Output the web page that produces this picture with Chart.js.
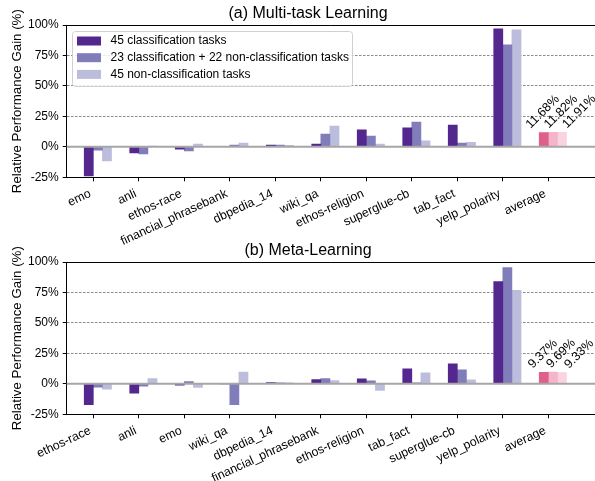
<!DOCTYPE html>
<html>
<head>
<meta charset="utf-8">
<script src="https://cdn.jsdelivr.net/npm/chart.js@4"></script>
<style>
body { margin: 0; background: #fff; width: 595px; height: 481px; overflow: hidden; position: relative; }
canvas { position: absolute; left: 0; }
#mtlChart { top: 0; }
#metaChart { top: 237px; }
</style>
</head>
<body>
<canvas id="mtlChart" width="595" height="250"></canvas>
<canvas id="metaChart" width="595" height="244"></canvas>
<script>
const seriesNames = ['45 classification tasks', '23 classification + 22 non-classification tasks', '45 non-classification tasks'];

// (a) multi-task learning
const mtlTasks = ['emo', 'anli', 'ethos-race', 'financial_phrasebank', 'dbpedia_14', 'wiki_qa', 'ethos-religion', 'superglue-cb', 'tab_fact', 'yelp_polarity', 'average'];
const mtlCls = [-23.8, -4.9, -1.9, 0.5, 1.4, 2.2, 14.0, 15.6, 17.8, 96.8, 11.68];
const mtlMix = [-2.7, -5.8, -3.3, 1.4, 1.4, 10.4, 8.8, 20.3, 3.0, 83.7, 11.82];
const mtlNon = [-11.5, 0.6, 2.2, 3.0, 1.2, 17.0, 2.2, 5.0, 3.8, 96.0, 11.91];

// (b) meta-learning
const metaTasks = ['ethos-race', 'anli', 'emo', 'wiki_qa', 'dbpedia_14', 'financial_phrasebank', 'ethos-religion', 'tab_fact', 'superglue-cb', 'yelp_polarity', 'average'];
const metaCls = [-17.0, -7.7, -1.1, 0.0, 1.1, 3.5, 4.1, 12.3, 16.4, 84.0, 9.37];
const metaMix = [-2.8, -1.9, 1.9, -17.0, 0.8, 4.4, 2.5, 0.8, 11.5, 95.4, 9.69];
const metaNon = [-4.4, 4.4, -3.0, 9.6, 0.8, 2.7, -5.5, 9.0, 3.3, 76.8, 9.33];

const yTicks = [-25, 0, 25, 50, 75, 100];

const purples = ['#54278f', '#807dba', '#bcbddc'];
const pinks = ['#df6189', '#f4b4c9', '#f9d3df'];
const barOffsets = [-0.1, 0.1, 0.3];   // bars are edge aligned: first one ends on the tick
const FONT = '"Liberation Sans", Arial, sans-serif';
const AXIS_BOTTOM = 177.3;   // plot bottom inside each canvas

Chart.defaults.font.family = FONT;
Chart.defaults.color = '#000';

const extras = {
    id: 'extras',
    afterDatasetsDraw(chart, args, opts) {
        const {ctx, chartArea: a, scales: {x, y}} = chart;
        ctx.save();
        // zero line on top of the bars
        const y0 = y.getPixelForValue(0);
        ctx.strokeStyle = '#a6a6a6';
        ctx.lineWidth = 2;
        ctx.beginPath(); ctx.moveTo(a.left, y0); ctx.lineTo(a.right, y0); ctx.stroke();
        // top spine
        ctx.strokeStyle = '#000';
        ctx.lineWidth = 1;
        ctx.beginPath(); ctx.moveTo(a.left, a.top + 0.5); ctx.lineTo(a.right, a.top + 0.5); ctx.stroke();

        // value labels above the average bars
        const last = chart.data.labels.length - 1;
        const fs = 12.5;
        ctx.font = fs + 'px ' + FONT;
        ctx.fillStyle = '#000';
        ctx.textAlign = 'center';
        ctx.textBaseline = 'middle';
        chart.data.datasets.forEach((ds, j) => {
            const el = chart.getDatasetMeta(j).data[last];
            const txt = ds.data[last].y.toFixed(2) + '%';
            const w = ctx.measureText(txt).width;
            const half = (w + fs * 0.8) * 0.7071 / 2;
            const cx = x.getPixelForValue(last - 0.1 + 0.4 * j) - 1;
            const cy = Math.min(el.y, el.base) - 2.5 - half;
            ctx.save();
            ctx.translate(cx, cy);
            ctx.rotate(-Math.PI / 4);
            ctx.fillText(txt, 0, 0);
            ctx.restore();
        });
        ctx.restore();
    },
    afterDraw(chart, args, opts) {
        const {ctx, chartArea: a} = chart;
        ctx.save();
        // panel title
        ctx.font = '16px ' + FONT;
        ctx.fillStyle = '#000';
        ctx.textAlign = 'center';
        ctx.textBaseline = 'middle';
        ctx.fillText(opts.title, 308, 13.5);
        if (opts.legend) {
            const bx = a.left + 5.8, by = a.top + 6.5, bw = 280, bh = 55;
            ctx.fillStyle = 'rgba(255,255,255,0.8)';
            ctx.strokeStyle = '#d0d0d0';
            ctx.lineWidth = 1;
            ctx.beginPath();
            ctx.roundRect(bx, by, bw, bh, 3);
            ctx.fill();
            ctx.stroke();
            ctx.font = '12px ' + FONT;
            ctx.textAlign = 'left';
            seriesNames.forEach((name, j) => {
                const ry = by + 9.5 + 16.7 * j;
                ctx.fillStyle = purples[j];
                ctx.fillRect(bx + 4.5, ry - 4.5, 24, 9);
                ctx.fillStyle = '#000';
                ctx.fillText(name, bx + 38, ry);
            });
        }
        ctx.restore();
    }
};

function makeChart(id, title, tasks, series, showLegend) {
    const ctx = document.getElementById(id).getContext('2d');
    const h = ctx.canvas.height;
    return new Chart(ctx, {
        type: 'bar',
        data: {
            labels: tasks,
            datasets: series.map((vals, j) => ({
                label: seriesNames[j],
                data: tasks.map((t, i) => ({x: i + barOffsets[j], y: vals[i]})),
                backgroundColor: tasks.map(t => t === 'average' ? pinks[j] : purples[j]),
                borderWidth: 0,
                grouped: false,
                barPercentage: 1,
                categoryPercentage: 1
            }))
        },
        options: {
            responsive: false,
            animation: false,
            layout: {padding: {top: 25, left: 0, right: 0, bottom: 0}},
            plugins: {
                legend: {display: false},
                tooltip: {enabled: false},
                title: {display: false},
                extras: {legend: showLegend, title: title}
            },
            scales: {
                x: {
                    type: 'linear',
                    offset: false,
                    min: -0.585,
                    max: -0.585 + (595 - 66.7) / 45.5,
                    afterBuildTicks: s => { s.ticks = tasks.map((t, i) => ({value: i})); },
                    afterFit: s => { s.height = h - AXIS_BOTTOM; },
                    ticks: {
                        autoSkip: false,
                        maxRotation: 25,
                        minRotation: 25,
                        padding: 5,
                        labelOffset: -3,
                        color: '#000',
                        font: {size: 12.3},
                        callback: v => tasks[Math.round(v)]
                    },
                    grid: {offset: false, drawOnChartArea: false, tickLength: 4, tickColor: '#000'},
                    border: {color: '#000', width: 1}
                },
                y: {
                    min: -25,
                    max: 100,
                    afterBuildTicks: s => { s.ticks = yTicks.map(v => ({value: v})); },
                    afterFit: s => { s.width = 66.7; },
                    ticks: {
                        padding: 4,
                        color: '#000',
                        font: {size: 12},
                        callback: v => v + '%'
                    },
                    grid: {
                        color: c => (c.tick && [25, 50, 75].includes(c.tick.value)) ? '#8a8a8a' : 'transparent',
                        lineWidth: 1,
                        tickLength: 4,
                        tickColor: '#000'
                    },
                    border: {color: '#000', width: 1, dash: [2.5, 1.5]},
                    title: {
                        display: true,
                        text: 'Relative Performance Gain (%)',
                        color: '#000',
                        font: {size: 13.3, lineHeight: 1.2},
                        padding: {top: 9, bottom: 0}
                    }
                }
            }
        },
        plugins: [extras]
    });
}

makeChart('mtlChart', '(a) Multi-task Learning', mtlTasks, [mtlCls, mtlMix, mtlNon], true);
makeChart('metaChart', '(b) Meta-Learning', metaTasks, [metaCls, metaMix, metaNon], false);
</script>
</body>
</html>
